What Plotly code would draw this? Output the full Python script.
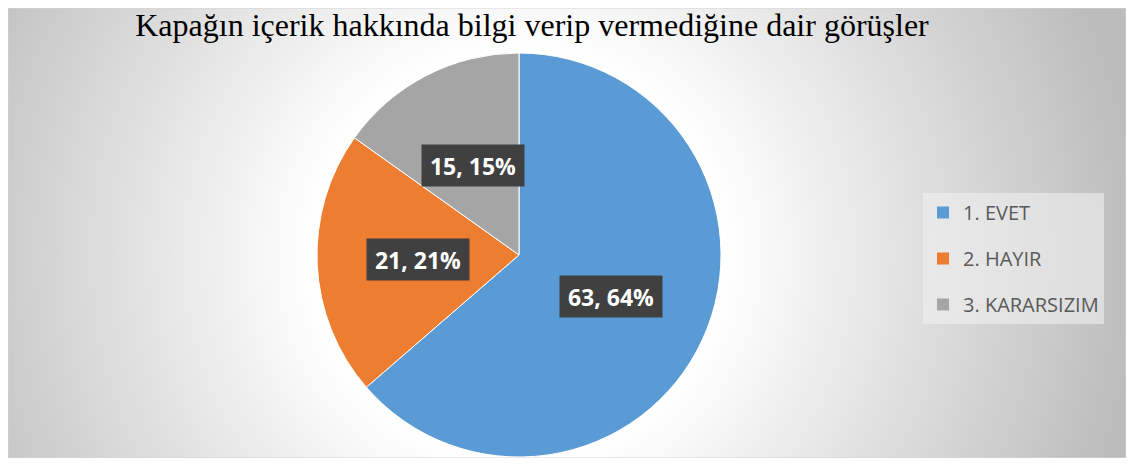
import base64
import math

import plotly.graph_objects as go

# ---------------------------------------------------------------------------
# Data
# ---------------------------------------------------------------------------
LABELS = ["1. EVET", "2. HAYIR", "3. KARARSIZIM"]
VALUES = [63, 21, 15]
COLORS = ["#5B9BD5", "#ED7D31", "#A5A5A5"]
TITLE = "Kapağın içerik hakkında bilgi verip vermediğine dair görüşler"

# ---------------------------------------------------------------------------
# Layout constants. The page body has an 8px margin, so the figure is kept a
# little smaller than the window and screen positions are shifted by OFF.
# ---------------------------------------------------------------------------
OFF = 8
W, H = 1118, 450
CX, CY, R = 519 - OFF, 255 - OFF, 202   # pie centre / radius (figure px)
LABEL_RADIUS = 0.5                     # label distance as a fraction of radius


def px_x(x):
    return x / W


def px_y(y):
    return 1 - y / H


# radial grey background, drawn as an svg data uri
bg_svg = f"""<svg xmlns='http://www.w3.org/2000/svg' width='{W}' height='{H}'>
<defs><radialGradient id='g' gradientUnits='userSpaceOnUse' cx='{CX}' cy='{CY}' r='620'>
<stop offset='0' stop-color='#ffffff'/><stop offset='0.33' stop-color='#ffffff'/>
<stop offset='1' stop-color='#bcbcbc'/></radialGradient></defs>
<rect width='{W}' height='{H}' fill='url(#g)'/></svg>"""
bg_uri = "data:image/svg+xml;base64," + base64.b64encode(bg_svg.encode()).decode()

fig = go.Figure()

fig.add_trace(
    go.Pie(
        labels=LABELS,
        values=VALUES,
        sort=False,
        direction="clockwise",
        rotation=0,
        marker=dict(colors=COLORS, line=dict(color="white", width=1)),
        textinfo="none",
        showlegend=False,
        domain=dict(
            x=[px_x(CX - R), px_x(CX + R)],
            y=[max(0, px_y(CY + R)), px_y(CY - R)],
        ),
    )
)

# legend entries (separate traces so the vertical spacing can be controlled)
for lab, col in zip(LABELS, COLORS):
    fig.add_trace(
        go.Scatter(
            x=[None],
            y=[None],
            mode="markers",
            marker=dict(symbol="square", size=12, color=col),
            name=lab,
            legendgroup=lab,
        )
    )

# value labels in dark boxes, placed on each slice bisector
total = sum(VALUES)
start = 0.0
for val in VALUES:
    span = val / total * 360
    mid = math.radians(start + span / 2)
    start += span
    fig.add_annotation(
        x=px_x(CX + LABEL_RADIUS * R * math.sin(mid)),
        y=px_y(CY - LABEL_RADIUS * R * math.cos(mid)),
        xref="paper",
        yref="paper",
        text=f"<b>{val}, {round(val / total * 100)}%</b>",
        showarrow=False,
        font=dict(family="Open Sans, Noto Sans, sans-serif", size=23, color="white"),
        bgcolor="#404040",
        borderpad=5,
        width=92,
        height=31,
    )

fig.add_layout_image(
    dict(
        source=bg_uri,
        xref="paper",
        yref="paper",
        x=0,
        y=1,
        sizex=1,
        sizey=1,
        sizing="stretch",
        xanchor="left",
        yanchor="top",
        layer="below",
    )
)

fig.add_shape(
    type="rect",
    xref="paper",
    yref="paper",
    x0=0,
    x1=1,
    y0=0,
    y1=1,
    line=dict(color="#d4d4d4", width=1),
)

fig.update_layout(
    width=W,
    height=H,
    margin=dict(l=0, r=0, t=0, b=0),
    paper_bgcolor="white",
    plot_bgcolor="rgba(0,0,0,0)",
    title=dict(
        text=TITLE,
        x=px_x(532 - OFF),
        xanchor="center",
        y=px_y(25 - OFF),
        yanchor="middle",
        font=dict(family="Liberation Serif, Times New Roman, serif", size=32, color="black"),
    ),
    xaxis=dict(visible=False),
    yaxis=dict(visible=False),
    legend=dict(
        x=px_x(923 - OFF),
        y=px_y(193 - OFF),
        xanchor="left",
        yanchor="top",
        bgcolor="rgba(240,240,240,0.6)",
        font=dict(family="Open Sans, Noto Sans, sans-serif", size=20, color="#595959"),
        tracegroupgap=17,
        itemwidth=30,
    ),
)

fig.write_html("out.html")
